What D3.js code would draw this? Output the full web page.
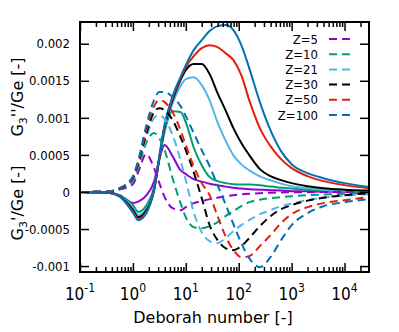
<!DOCTYPE html>
<html><head><meta charset="utf-8">
<script src="https://cdn.jsdelivr.net/npm/d3@7"></script>
<style>
body{margin:0;background:#fff}
svg{display:block}
text{fill:#000}
</style>
</head><body>
<svg id="chart" width="399" height="332"></svg>
<script>
// Deborah number grid (x values)
const deborah = [0.1, 0.316, 0.562, 1, 1.26, 1.78, 2.51, 3.16, 3.98, 5.62, 7.94, 10, 14.1, 20, 28.2, 39.8, 56.2, 79.4, 112, 158, 251, 398, 631, 1000, 2000, 3980, 10000, 29000];

const zLabels = ["Z=5", "Z=10", "Z=21", "Z=30", "Z=50", "Z=100"];
const colors = ["#9400d3", "#009e73", "#56b4e9", "#000000", "#e51e10", "#0072b2"];

// G3''/Ge (solid lines)
const lossZ5   = [0, -0.000009, -0.000045, -0.000148, -0.000130, -0.000050, 0.000140, 0.000440, 0.000632, 0.000483, 0.000294, 0.000240, 0.000173, 0.000139, 0.000112, 0.000092, 0.000072, 0.000058, 0.000045, 0.000038, 0.000031, 0.000024, 0.000018, 0.000011, 0.000008, 0.000004, 0.000003, 0.000001];
const lossZ10  = [0, -0.000009, -0.000050, -0.000175, -0.000270, -0.000185, 0.000060, 0.000440, 0.000815, 0.001090, 0.001080, 0.000940, 0.000600, 0.000360, 0.000200, 0.000146, 0.000119, 0.000105, 0.000099, 0.000101, 0.000092, 0.000072, 0.000058, 0.000045, 0.000031, 0.000018, 0.000011, 0.000004];
const lossZ21  = [0, -0.000009, -0.000052, -0.000215, -0.000313, -0.000225, 0.000020, 0.000440, 0.000855, 0.001198, 0.001428, 0.001522, 0.001549, 0.001441, 0.001235, 0.000939, 0.000696, 0.000494, 0.000372, 0.000292, 0.000211, 0.000157, 0.000112, 0.000078, 0.000051, 0.000031, 0.000018, 0.000007];
const lossZ30  = [0, -0.000009, -0.000056, -0.000240, -0.000340, -0.000250, 0.000020, 0.000455, 0.000880, 0.001239, 0.001509, 0.001644, 0.001725, 0.001725, 0.001590, 0.001333, 0.001104, 0.000861, 0.000659, 0.000497, 0.000308, 0.000213, 0.000159, 0.000119, 0.000078, 0.000051, 0.000031, 0.000018];
const lossZ50  = [0, -0.000009, -0.000060, -0.000265, -0.000367, -0.000275, 0.000030, 0.000470, 0.000895, 0.001266, 0.001536, 0.001684, 0.001833, 0.001941, 0.001981, 0.001954, 0.001873, 0.001779, 0.001576, 0.001239, 0.000861, 0.000618, 0.000443, 0.000321, 0.000213, 0.000146, 0.000092, 0.000051];
const lossZ100 = [0, -0.000009, -0.000062, -0.000280, -0.000381, -0.000290, 0.000040, 0.000485, 0.000910, 0.001293, 0.001549, 0.001711, 0.001914, 0.002049, 0.002170, 0.002237, 0.002251, 0.002184, 0.001981, 0.001671, 0.001212, 0.000834, 0.000551, 0.000375, 0.000254, 0.000186, 0.000119, 0.000065];

// G3'/Ge (dashed lines)
const storZ5   = [0, 0.000004, 0.000031, 0.000105, 0.000267, 0.000510, 0.000321, 0.000119, -0.000070, -0.000219, -0.000246, -0.000205, -0.000151, -0.000124, -0.000097, -0.000077, -0.000057, -0.000043, -0.000032, -0.000024, -0.000016, -0.000011, -0.000007, -0.000004, -0.000003, -0.000001, 0, 0];
const storZ10  = [0, 0.000004, 0.000038, 0.000146, 0.000321, 0.000659, 0.000794, 0.000726, 0.000564, 0.000186, -0.000151, -0.000340, -0.000475, -0.000489, -0.000462, -0.000408, -0.000327, -0.000259, -0.000192, -0.000138, -0.000104, -0.000084, -0.000070, -0.000057, -0.000043, -0.000036, -0.000023, -0.000016];
const storZ21  = [0, 0.000004, 0.000045, 0.000173, 0.000348, 0.000726, 0.000996, 0.001036, 0.000982, 0.000767, 0.000429, 0.000159, -0.000273, -0.000543, -0.000664, -0.000691, -0.000623, -0.000529, -0.000448, -0.000381, -0.000300, -0.000246, -0.000192, -0.000158, -0.000111, -0.000077, -0.000050, -0.000030];
const storZ30  = [0, 0.000004, 0.000045, 0.000186, 0.000375, 0.000780, 0.001077, 0.001131, 0.001104, 0.000969, 0.000740, 0.000564, 0.000267, -0.000084, -0.000448, -0.000650, -0.000758, -0.000785, -0.000731, -0.000623, -0.000462, -0.000327, -0.000232, -0.000178, -0.000117, -0.000077, -0.000043, -0.000016];
const storZ50  = [0, 0.000004, 0.000051, 0.000200, 0.000402, 0.000834, 0.001158, 0.001239, 0.001212, 0.001077, 0.000834, 0.000632, 0.000348, 0.000119, -0.000043, -0.000327, -0.000596, -0.000785, -0.000880, -0.000866, -0.000731, -0.000583, -0.000421, -0.000300, -0.000205, -0.000151, -0.000111, -0.000070];
const storZ100 = [0, 0.000004, 0.000051, 0.000213, 0.000429, 0.000888, 0.001239, 0.001347, 0.001347, 0.001279, 0.001158, 0.001023, 0.000794, 0.000564, 0.000348, 0.000092, -0.000165, -0.000435, -0.000691, -0.000893, -0.001015, -0.000880, -0.000650, -0.000448, -0.000286, -0.000192, -0.000138, -0.000097];

const lossSeries = [lossZ5, lossZ10, lossZ21, lossZ30, lossZ50, lossZ100];
const storSeries = [storZ5, storZ10, storZ21, storZ30, storZ50, storZ100];

const xTicks = [0.1, 1, 10, 100, 1000, 10000];
const xTickExponents = ["-1", "0", "1", "2", "3", "4"];
const yTicks = [-0.001, -0.0005, 0, 0.0005, 0.001, 0.0015, 0.002];
const yTickLabels = ["-0.001", "-0.0005", "0", "0.0005", "0.001", "0.0015", "0.002"];

const COND = '"DejaVu Sans Condensed", "DejaVu Sans", sans-serif';
const REG = '"DejaVu Sans", sans-serif';

const L = 80, R = 369, T = 22, B = 272;
const svg = d3.select("#chart");

const x = d3.scaleLog().domain([0.1, 29000]).range([L, R]);
const y = d3.scaleLinear().domain([-0.00108, 0.002293]).range([B, T]);

// minor ticks
const minors = [];
for (let d = 0.1; d < 29000; d *= 10) for (let k = 2; k <= 9; k++) if (d * k <= 29000) minors.push(d * k);

svg.append("defs").append("clipPath").attr("id", "clip")
  .append("rect").attr("x", L).attr("y", T).attr("width", R - L).attr("height", B - T);

const plot = svg.append("g").attr("clip-path", "url(#clip)");
const line = (arr) => d3.line().x((d, i) => x(deborah[i])).y(d => y(d)).curve(d3.curveMonotoneX)(arr);

lossSeries.forEach((s, i) => {
  plot.append("path").attr("d", line(s)).attr("fill", "none")
    .attr("stroke", colors[i]).attr("stroke-width", 2);
});
storSeries.forEach((s, i) => {
  plot.append("path").attr("d", line(s)).attr("fill", "none")
    .attr("stroke", colors[i]).attr("stroke-width", 2).attr("stroke-dasharray", "8,5");
});

// axes
function styleAxis(g) {
  g.select(".domain").remove();
  g.selectAll(".tick line").attr("stroke", "#000").attr("stroke-width", 1.5);
}
svg.append("g").attr("transform", `translate(0,${B})`)
  .call(d3.axisBottom(x).tickValues(xTicks).tickSizeInner(-9).tickSizeOuter(0).tickFormat(""))
  .call(styleAxis);
svg.append("g").attr("transform", `translate(0,${B})`)
  .call(d3.axisBottom(x).tickValues(minors).tickSizeInner(-5).tickSizeOuter(0).tickFormat(""))
  .call(styleAxis);
svg.append("g").attr("transform", `translate(0,${T})`)
  .call(d3.axisTop(x).tickValues(xTicks).tickSizeInner(-9).tickSizeOuter(0).tickFormat(""))
  .call(styleAxis);
svg.append("g").attr("transform", `translate(0,${T})`)
  .call(d3.axisTop(x).tickValues(minors).tickSizeInner(-5).tickSizeOuter(0).tickFormat(""))
  .call(styleAxis);
const yl = svg.append("g").attr("transform", `translate(${L},0)`)
  .call(d3.axisLeft(y).tickValues(yTicks).tickSizeInner(-9).tickSizeOuter(0).tickPadding(10)
    .tickFormat((d, i) => yTickLabels[i]))
  .call(styleAxis);
yl.attr("font-family", null).attr("font-size", null);
yl.selectAll("text").style("font-family", COND).style("font-size", "13px").attr("fill", "#000");
svg.append("g").attr("transform", `translate(${R},0)`)
  .call(d3.axisRight(y).tickValues(yTicks).tickSizeInner(-9).tickSizeOuter(0).tickFormat(""))
  .call(styleAxis);

// frame
svg.append("rect").attr("x", L).attr("y", T).attr("width", R - L).attr("height", B - T)
  .attr("fill", "none").attr("stroke", "#000").attr("stroke-width", 2);

// x tick labels
xTicks.forEach((v, i) => {
  const t = svg.append("text").attr("x", x(v)).attr("y", 300).attr("text-anchor", "middle")
    .style("font-family", COND).style("font-size", "17px");
  t.append("tspan").text("10");
  t.append("tspan").attr("dy", -8).style("font-size", "12px").text(xTickExponents[i]);
});

// axis titles
svg.append("text").attr("x", 213).attr("y", 323).attr("text-anchor", "middle")
  .style("font-family", REG).style("font-size", "16px").text("Deborah number [-]");

function yTitle(cx, cy, primes) {
  const t = svg.append("text").attr("transform", `translate(${cx},${cy}) rotate(-90)`)
    .attr("text-anchor", "middle").style("font-family", REG).style("font-size", "16px");
  t.append("tspan").text("G");
  t.append("tspan").attr("dy", 4).style("font-size", "11px").text("3");
  t.append("tspan").attr("dy", -4).text(primes + "/Ge [-]");
}
yTitle(23, 97, "''");
yTitle(23, 203, "'");

// legend
const legY0 = 39, legStep = 15.2;
zLabels.forEach((lab, i) => {
  const yy = legY0 + i * legStep;
  svg.append("text").attr("x", 318).attr("y", yy + 4.5).attr("text-anchor", "end")
    .style("font-family", COND).style("font-size", "13px").text(lab);
  svg.append("line").attr("x1", 329).attr("x2", 351).attr("y1", yy).attr("y2", yy)
    .attr("stroke", colors[i]).attr("stroke-width", 2).attr("stroke-dasharray", "8,5");
});
</script>
</body></html>
